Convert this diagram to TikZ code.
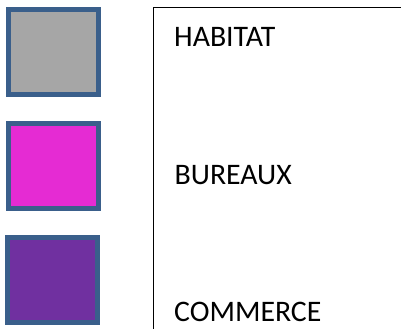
\documentclass[tikz,border=0pt]{standalone}
\usepackage{fontspec}
\setmainfont{Carlito}
\definecolor{habitatgray}{HTML}{A6A6A6}
\definecolor{bureauxpink}{HTML}{E52BD3}
\definecolor{commercepurple}{HTML}{7030A0}
\definecolor{swatchedge}{HTML}{3A5F8B}

\begin{document}
\begin{tikzpicture}[x=1pt, y=1pt,
    swatch/.style={draw=swatchedge, line width=5pt, inner sep=0pt,
        minimum width=90pt, minimum height=85pt},
    legendtext/.style={anchor=base west, inner sep=0pt,
        font=\fontsize{29.8}{35}\selectfont}]
    \useasboundingbox (0,0) rectangle (401,329);

    % --- Colour swatches ---
    \node[swatch, fill=habitatgray] (habitat) at (53.5,277) {};
    \node[swatch, fill=bureauxpink] (bureaux) at (53.5,163) {};
    \node[swatch, fill=commercepurple] (commerce) at (52.5,49) {};

    % --- Frame of the label column ---
    \draw[line width=1pt] (401,321) -- (153.5,321) -- (153.5,0);

    % --- Labels ---
    \node[legendtext] (habitatlabel) at (174,282) {HABITAT};
    \node[legendtext] (bureauxlabel) at (174.5,144) {BUREAUX};
    \node[legendtext] (commercelabel) at (174,8) {COMMERCE};
\end{tikzpicture}
\end{document}
